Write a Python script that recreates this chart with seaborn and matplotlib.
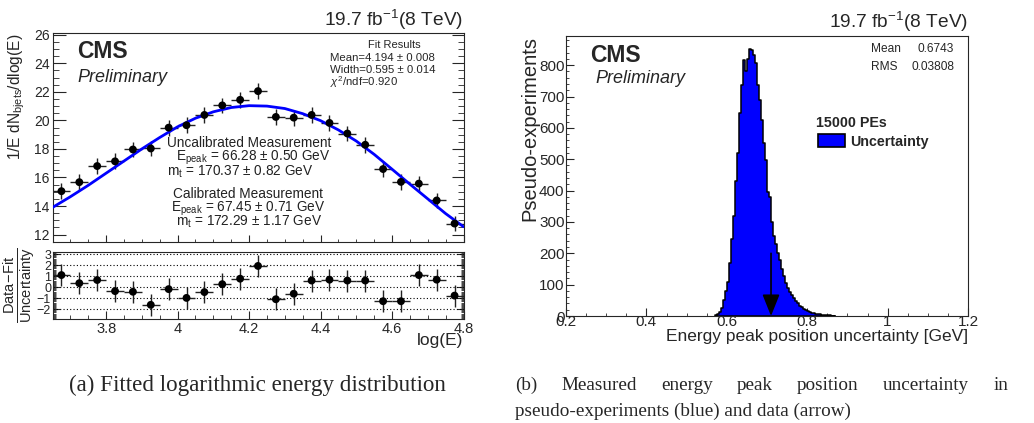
import numpy as np
import pandas as pd
import seaborn as sns
import matplotlib.pyplot as plt
from matplotlib.patches import Patch
from matplotlib.ticker import MultipleLocator, FixedLocator, FixedFormatter

# ---- (a) log(E) distribution ----
loge = [3.675, 3.725, 3.775, 3.825, 3.875, 3.925, 3.975, 4.025, 4.075, 4.125, 4.175, 4.225,
        4.275, 4.325, 4.375, 4.425, 4.475, 4.525, 4.575, 4.625, 4.675, 4.725, 4.775]
half_bin = 0.025
dn_vals = [15.04, 15.67, 16.80, 17.13, 17.96, 18.03, 19.49, 19.66, 20.38, 21.05, 21.44, 22.05,
           20.24, 20.19, 20.38, 19.82, 19.08, 18.29, 16.59, 15.69, 15.57, 14.39, 12.77]
dn_err = 0.55
fit_x = [3.65, 3.70, 3.75, 3.80, 3.85, 3.90, 3.95, 4.00, 4.05, 4.10, 4.15, 4.20,
         4.25, 4.30, 4.35, 4.40, 4.45, 4.50, 4.55, 4.60, 4.65, 4.70, 4.75, 4.80]
fit_y = [13.9, 14.65, 15.45, 16.3, 17.15, 18.0, 18.8, 19.55, 20.15, 20.6, 20.9, 21.03,
         21.0, 20.83, 20.47, 19.98, 19.33, 18.55, 17.62, 16.58, 15.53, 14.5, 13.47, 12.55]
resid = [1.10, 0.36, 0.65, -0.36, -0.42, -1.61, -0.18, -0.98, -0.45, 0.27, 0.77, 1.93,
         -1.10, -0.60, 0.60, 0.68, 0.60, 0.60, -1.28, -1.28, 1.10, 0.68, -0.77]
lower_xticks = [3.8, 4.0, 4.2, 4.4, 4.6, 4.8]
lower_xlabels = ['3.8', '4', '4.2', '4.4', '4.6', '4.8']

# ---- (b) pseudo-experiments histogram ----
pe_start = 0.570
pe_width = 0.005
pe_counts = [2, 5, 12, 24, 51, 80, 110, 168, 245, 320, 429, 519, 647, 737, 817, 780, 819, 851,
             849, 833, 806, 737, 689, 626, 551, 498, 397, 381, 300, 255, 230, 200, 180, 150,
             128, 105, 88, 78, 68, 58, 48, 40, 33, 28, 22, 18, 15, 12, 10, 8, 7, 6, 5, 4,
             3, 3, 2, 2, 1, 1]
data_unc = 0.71
arrow_top = 200
pe_xticks = [0.2, 0.4, 0.6, 0.8, 1.0, 1.2]
pe_xlabels = ['0.2', '0.4', '0.6', '0.8', '1', '1.2']

W, H = 1034, 423

sns.set_style("ticks")
plt.rcParams['font.family'] = ['Liberation Sans', 'DejaVu Sans']
plt.rcParams['mathtext.fontset'] = 'custom'
plt.rcParams['mathtext.rm'] = 'Liberation Sans'
plt.rcParams['mathtext.it'] = 'Liberation Sans:italic'
plt.rcParams['mathtext.bf'] = 'Liberation Sans:bold'
plt.rcParams['xtick.direction'] = 'in'
plt.rcParams['ytick.direction'] = 'in'
plt.rcParams['axes.linewidth'] = 0.8


def fx(x, y):
    return x / W, 1 - y / H


fig = plt.figure(figsize=(W / 100, H / 100), dpi=100)
ax1 = fig.add_axes([52.5 / W, 1 - 241.7 / H, 411 / W, 208.4 / H])
ax2 = fig.add_axes([52.5 / W, 1 - 319 / H, 411 / W, 67 / H])
ax3 = fig.add_axes([566 / W, 1 - 316 / H, 402 / W, 280 / H])

# upper left: data + fit
ax1.errorbar(loge, dn_vals, xerr=half_bin, yerr=dn_err, fmt='none', ecolor='#222222',
             elinewidth=1, capsize=0, zorder=2)
sns.lineplot(x=fit_x, y=fit_y, ax=ax1, color='#0000ff', lw=2, zorder=3)
sns.scatterplot(x=loge, y=dn_vals, ax=ax1, color='black', s=32, edgecolor='none', zorder=4)
ax1.set_xlim(3.65, 4.8)
ax1.set_ylim(11.5, 26.1)
ax1.xaxis.set_major_locator(MultipleLocator(0.2))
ax1.xaxis.set_minor_locator(MultipleLocator(0.05))
ax1.yaxis.set_major_locator(MultipleLocator(2))
ax1.yaxis.set_minor_locator(MultipleLocator(0.5))
ax1.tick_params(axis='x', which='both', labelbottom=False, top=False)
ax1.tick_params(axis='x', which='major', length=5)
ax1.tick_params(axis='x', which='minor', length=2.5)
ax1.tick_params(axis='y', which='both', right=True, labelsize=10, pad=2)
ax1.tick_params(axis='y', which='major', length=9)
ax1.tick_params(axis='y', which='minor', length=4.5)
ax1.set_ylabel(r'1/E dN$_{\mathrm{bjets}}$/dlog(E)', fontsize=11.2, loc='top', labelpad=5)

ax1.text(*fx(77, 51), 'CMS', transform=fig.transFigure, fontsize=16.5, fontweight='bold',
         va='center', ha='left')
ax1.text(*fx(77, 77), 'Preliminary', transform=fig.transFigure, fontsize=13, style='italic',
         va='center', ha='left')
ax1.text(*fx(394, 45.5), 'Fit Results', transform=fig.transFigure, fontsize=8, ha='center', va='center')
ax1.text(*fx(330, 58), 'Mean=4.194 ± 0.008', transform=fig.transFigure, fontsize=8.2, ha='left', va='center')
ax1.text(*fx(330, 70), 'Width=0.595 ± 0.014', transform=fig.transFigure, fontsize=8.2, ha='left', va='center')
ax1.text(*fx(330, 82), r'$\chi^{2}$/ndf=0.920', transform=fig.transFigure, fontsize=8.2, ha='left', va='center')
meas = [(249.5, 143, 'Uncalibrated Measurement'),
        (253.5, 157.5, r'E$_{\mathrm{peak}}$ = 66.28 ± 0.50 GeV'),
        (240, 171.5, r'm$_{\mathrm{t}}$ = 170.37 ± 0.82 GeV'),
        (247.5, 194, 'Calibrated Measurement'),
        (248, 209, r'E$_{\mathrm{peak}}$ = 67.45 ± 0.71 GeV'),
        (249, 222, r'm$_{\mathrm{t}}$ = 172.29 ± 1.17 GeV')]
for x, y, s in meas:
    ax1.text(*fx(x, y), s, transform=fig.transFigure, fontsize=9.8, ha='center', va='center', color='#222222')
fig.text(*fx(463, 20), r'19.7 fb$^{\mathregular{-1}}$(8 TeV)', fontsize=13.8, ha='right', va='center')

# lower left: residuals
ax2.errorbar(loge, resid, xerr=half_bin, yerr=1.0, fmt='none', ecolor='#222222',
             elinewidth=1, capsize=0, zorder=2)
sns.scatterplot(x=loge, y=resid, ax=ax2, color='black', s=32, edgecolor='none', zorder=4)
ax2.set_xlim(3.65, 4.8)
ax2.set_ylim(-2.9, 3.2)
for g in [-2, -1, 0, 1, 2, 3]:
    ax2.axhline(g, color='black', lw=0.8, ls=(0, (1, 2)), zorder=1)
ax2.xaxis.set_major_locator(FixedLocator(lower_xticks))
ax2.xaxis.set_major_formatter(FixedFormatter(lower_xlabels))
ax2.xaxis.set_minor_locator(MultipleLocator(0.05))
ax2.yaxis.set_major_locator(MultipleLocator(1))
ax2.yaxis.set_minor_locator(MultipleLocator(0.1))
ax2.tick_params(axis='x', which='major', length=6, labelsize=10.5, pad=2)
ax2.tick_params(axis='x', which='minor', length=3)
ax2.tick_params(axis='y', which='both', right=True, labelsize=9, pad=1)
ax2.tick_params(axis='y', which='major', length=5)
ax2.tick_params(axis='y', which='minor', length=2.5)
ax2.set_ylabel(r'$\frac{\mathrm{Data\!-\!Fit}}{\mathrm{Uncertainty}}$', fontsize=15)
ax2.yaxis.set_label_coords(-0.037, 0.5)
ax2.set_xlabel('log(E)', fontsize=12.5, loc='right', labelpad=-2)

# right: pseudo-experiments
hist_df = pd.DataFrame({'unc': pe_start + pe_width * (np.arange(len(pe_counts)) + 0.5),
                        'n': pe_counts})
sns.histplot(data=hist_df, x='unc', weights='n', binwidth=pe_width,
             binrange=(pe_start, pe_start + pe_width * len(pe_counts)), element='step', fill=True,
             color='#0000ff', alpha=1, edgecolor='black', linewidth=1.1, ax=ax3)
ax3.annotate('', xy=(data_unc, 0), xytext=(data_unc, arrow_top),
             arrowprops=dict(arrowstyle='-|>,head_length=0.95,head_width=0.38', color='black',
                             lw=1.2, mutation_scale=14, shrinkA=0, shrinkB=0))
ax3.set_xlim(0.2, 1.2)
ax3.set_ylim(0, 893)
ax3.xaxis.set_major_locator(FixedLocator(pe_xticks))
ax3.xaxis.set_major_formatter(FixedFormatter(pe_xlabels))
ax3.xaxis.set_minor_locator(MultipleLocator(0.05))
ax3.yaxis.set_major_locator(MultipleLocator(100))
ax3.yaxis.set_minor_locator(MultipleLocator(20))
ax3.tick_params(axis='both', which='major', length=5.5, labelsize=11)
ax3.tick_params(axis='both', which='minor', length=2.5)
ax3.tick_params(axis='x', pad=-1)
ax3.tick_params(axis='y', pad=1)
ax3.set_ylabel('Pseudo-experiments', fontsize=14.5, loc='top', labelpad=0)
ax3.set_xlabel('Energy peak position uncertainty [GeV]', fontsize=12.5, loc='right', labelpad=0)

ax3.text(*fx(590, 55), 'CMS', transform=fig.transFigure, fontsize=16.5, fontweight='bold',
         va='center', ha='left')
ax3.text(*fx(595, 78), 'Preliminary', transform=fig.transFigure, fontsize=13, style='italic',
         va='center', ha='left')
ax3.text(*fx(871.5, 49.3), 'Mean', transform=fig.transFigure, fontsize=8.6, ha='left', va='center')
ax3.text(*fx(954, 49.3), '0.6743', transform=fig.transFigure, fontsize=8.6, ha='right', va='center')
ax3.text(*fx(871.5, 66.7), 'RMS', transform=fig.transFigure, fontsize=8.6, ha='left', va='center')
ax3.text(*fx(954, 66.7), '0.03808', transform=fig.transFigure, fontsize=8.6, ha='right', va='center')
ax3.text(*fx(816, 123), '15000 PEs', transform=fig.transFigure, fontsize=10.3, fontweight='bold',
         ha='left', va='center')
leg = ax3.legend(handles=[Patch(facecolor='#0000ff', edgecolor='black', lw=1.2, label='Uncertainty')],
                 loc='center left', bbox_to_anchor=fx(818, 141.5), bbox_transform=fig.transFigure,
                 frameon=False, handlelength=1.9, handleheight=1.0, handletextpad=0.35,
                 borderaxespad=0, borderpad=0, prop={'weight': 'bold', 'size': 10.3})
fig.text(*fx(968, 21.5), r'19.7 fb$^{\mathregular{-1}}$(8 TeV)', fontsize=13.8, ha='right', va='center')

# captions
cap_a = dict(family=['Liberation Serif', 'DejaVu Serif'], fontsize=16.6, va='center')
cap_b = dict(family=['Liberation Serif', 'DejaVu Serif'], fontsize=13.8, va='center')
fig.text(*fx(257.5, 385), '(a) Fitted logarithmic energy distribution', ha='center', **cap_a)
words = ['(b)', 'Measured', 'energy', 'peak', 'position', 'uncertainty', 'in']
fig.canvas.draw()
rend = fig.canvas.get_renderer()
wtexts = [fig.text(0, 1 - 385 / H, w, ha='left', **cap_b) for w in words]
widths = [t.get_window_extent(rend).width for t in wtexts]
gap = (1008 - 515 - sum(widths)) / (len(words) - 1)
xpos = 515
for t, w in zip(wtexts, widths):
    t.set_x(xpos / W)
    xpos += w + gap
fig.text(*fx(515, 411.5), 'pseudo-experiments (blue) and data (arrow)', ha='left', **cap_b)

fig.savefig('out.png', dpi=100)
